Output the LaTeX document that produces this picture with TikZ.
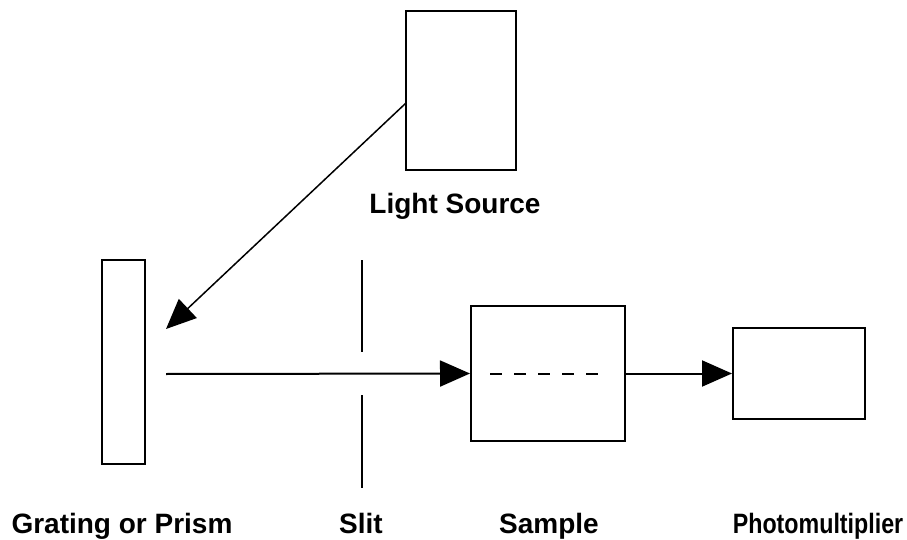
\documentclass[tikz,border=0pt]{standalone}
\usepackage{fontspec}
\setmainfont{Liberation Sans}
\usetikzlibrary{arrows.meta}
\begin{document}
\begin{tikzpicture}[x=1pt,y=-1pt,
  box/.style={draw,line width=2pt,inner sep=0pt},
  lbl/.style={font=\fontsize{28}{32}\selectfont\bfseries,inner sep=0pt,anchor=base},
  ray/.style={line width=2pt,-{Triangle[length=30pt,width=26pt]}}]
\useasboundingbox (0,0) rectangle (907,540);
\node[box,minimum width=110pt,minimum height=159pt] (ls) at (461,90.5) {};
\node[box,minimum width=43pt,minimum height=204pt] (gr) at (123.5,362) {};
\node[box,minimum width=154pt,minimum height=135pt] (sa) at (548,373.5) {};
\node[box,minimum width=132pt,minimum height=91pt] (pm) at (799,373.5) {};
\coordinate (lsw) at (406,103);
\coordinate (gin) at (166,329);
\coordinate (gout) at (166,374);
\coordinate (s1) at (362,260);
\coordinate (s2) at (362,352);
\coordinate (s3) at (362,395);
\coordinate (s4) at (362,488);
\coordinate (d1) at (490,374);
\coordinate (d2) at (606,374);
\draw[line width=1.5pt,-{Triangle[length=30pt,width=26pt]}] (lsw) -- (gin);
\draw[ray] (gout) -- (sa.west);
\draw[ray] (sa.east) -- (pm.west);
\draw[line width=2pt] (s1) -- (s2) (s3) -- (s4);
\draw[line width=2pt,dash pattern=on 12pt off 12pt] (d1) -- (d2);
\node[lbl] (t1) at (455,213) {Light Source};
\node[lbl] (t2) at (122,533) {Grating or Prism};
\node[lbl] (t3) at (361,533) {Slit};
\node[lbl] (t4) at (549,533) {Sample};
\node[lbl] (t5) at (818,533) {\scalebox{0.83}[1]{Photomultiplier}};
\end{tikzpicture}
\end{document}
